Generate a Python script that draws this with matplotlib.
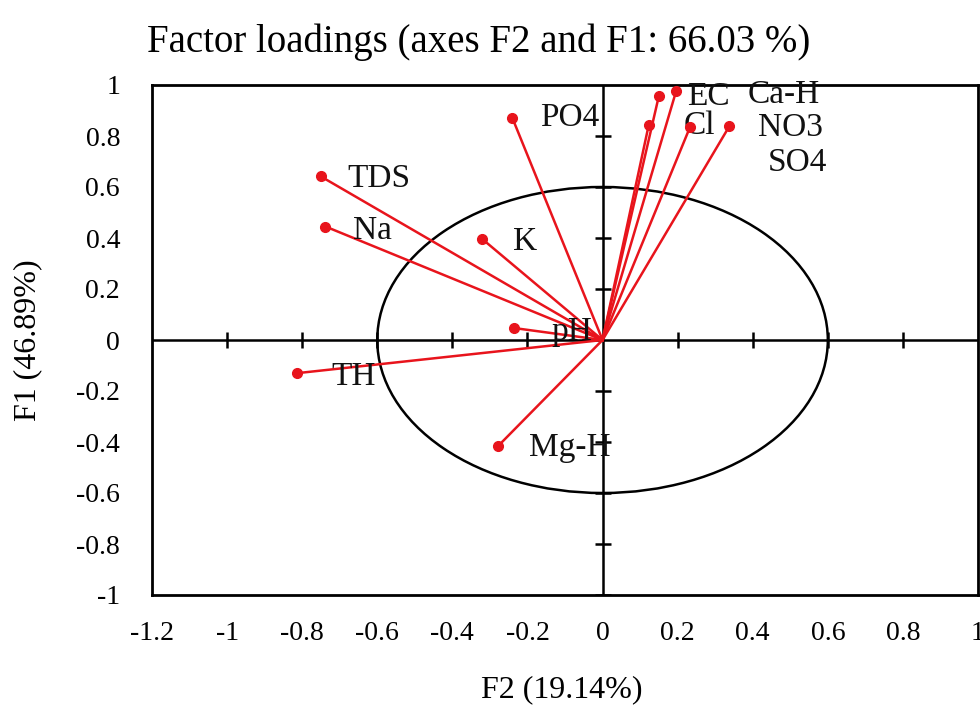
import numpy as np
import matplotlib
matplotlib.use("Agg")
from matplotlib import pyplot as plt
from matplotlib.patches import Ellipse

# variables y cargas factoriales (F2 en x, F1 en y)
variables = ['PO4', 'EC', 'Ca-H', 'Cl', 'NO3', 'SO4', 'TDS', 'Na', 'K', 'pH', 'TH', 'Mg-H']
f2 = [-0.24, 0.15, 0.196, 0.123, 0.233, 0.338, -0.751, -0.738, -0.322, -0.236, -0.813, -0.279]
f1 = [0.87, 0.957, 0.976, 0.843, 0.835, 0.839, 0.642, 0.445, 0.398, 0.047, -0.13, -0.417]

xticks = [-1.2, -1, -0.8, -0.6, -0.4, -0.2, 0, 0.2, 0.4, 0.6, 0.8, 1]
yticks = [-1, -0.8, -0.6, -0.4, -0.2, 0, 0.2, 0.4, 0.6, 0.8, 1]
inner_ticks = [-1, -0.8, -0.6, -0.4, -0.2, 0.2, 0.4, 0.6, 0.8]

# desplazamiento de etiquetas en pixeles (dx, dy)
label_off = [(28, 0), (28, -1), (71, -4), (35, -1), (68, -1), (38, -37),
             (27, -2), (28, -4), (31, -3), (37, -4), (34, -4), (31, -1)]

serif = ['Liberation Serif', 'DejaVu Serif']
red = '#e8141c'

fig = plt.figure(figsize=(9.8, 7.11), dpi=100)
ax = fig.add_axes([152/980, 1 - 595/711, 826/980, 510/711])
ax.set_xlim(-1.2, 1)
ax.set_ylim(-1, 1)

# ejes por el origen
ax.axhline(0, color='black', lw=1.8, zorder=1)
ax.axvline(0, color='black', lw=1.8, zorder=1)
ax.plot(inner_ticks, [0]*len(inner_ticks), ls='none', marker='|', ms=12, mew=1.8, color='black', zorder=1)
ax.plot([0]*len(inner_ticks), inner_ticks, ls='none', marker='_', ms=12, mew=1.8, color='black', zorder=1)

ax.add_patch(Ellipse((0, 0), 1.2, 1.2, fill=False, ec='black', lw=1.8, zorder=1))

for i in range(len(variables)):
    ax.plot([0, f2[i]], [0, f1[i]], color=red, lw=1.8, zorder=2)
    ax.plot(f2[i], f1[i], 'o', color=red, ms=7, zorder=3)
    ax.annotate(variables[i], (f2[i], f1[i]), xytext=(label_off[i][0]*0.72, label_off[i][1]*0.72),
                textcoords='offset points', ha='left', va='center',
                fontsize=24, family=serif, color='#111111')

ax.set_xticks(xticks)
ax.set_xticklabels([('%g' % v) for v in xticks])
ax.set_yticks(yticks)
ax.set_yticklabels([('%g' % v) for v in yticks])
ax.tick_params(length=0, labelsize=20)
ax.tick_params(axis='x', pad=19)
ax.tick_params(axis='y', pad=23)
for lab in ax.get_xticklabels() + ax.get_yticklabels():
    lab.set_family(serif)
for s in ax.spines.values():
    s.set_linewidth(2)

ax.set_xlabel('F2 (19.14%)', fontsize=23, family=serif)
ax.set_ylabel('F1 (46.89%)', fontsize=23, family=serif)
ax.xaxis.set_label_coords(0.496, -0.186)
ax.yaxis.set_label_coords(-0.151, 0.5)
ax.xaxis.label.set_va('center')
ax.yaxis.label.set_va('center')
fig.text(0.488, 0.94, 'Factor loadings (axes F2 and F1: 66.03 %)', ha='center', va='center',
         fontsize=28, family=serif)

fig.savefig('out.png', dpi=100)
